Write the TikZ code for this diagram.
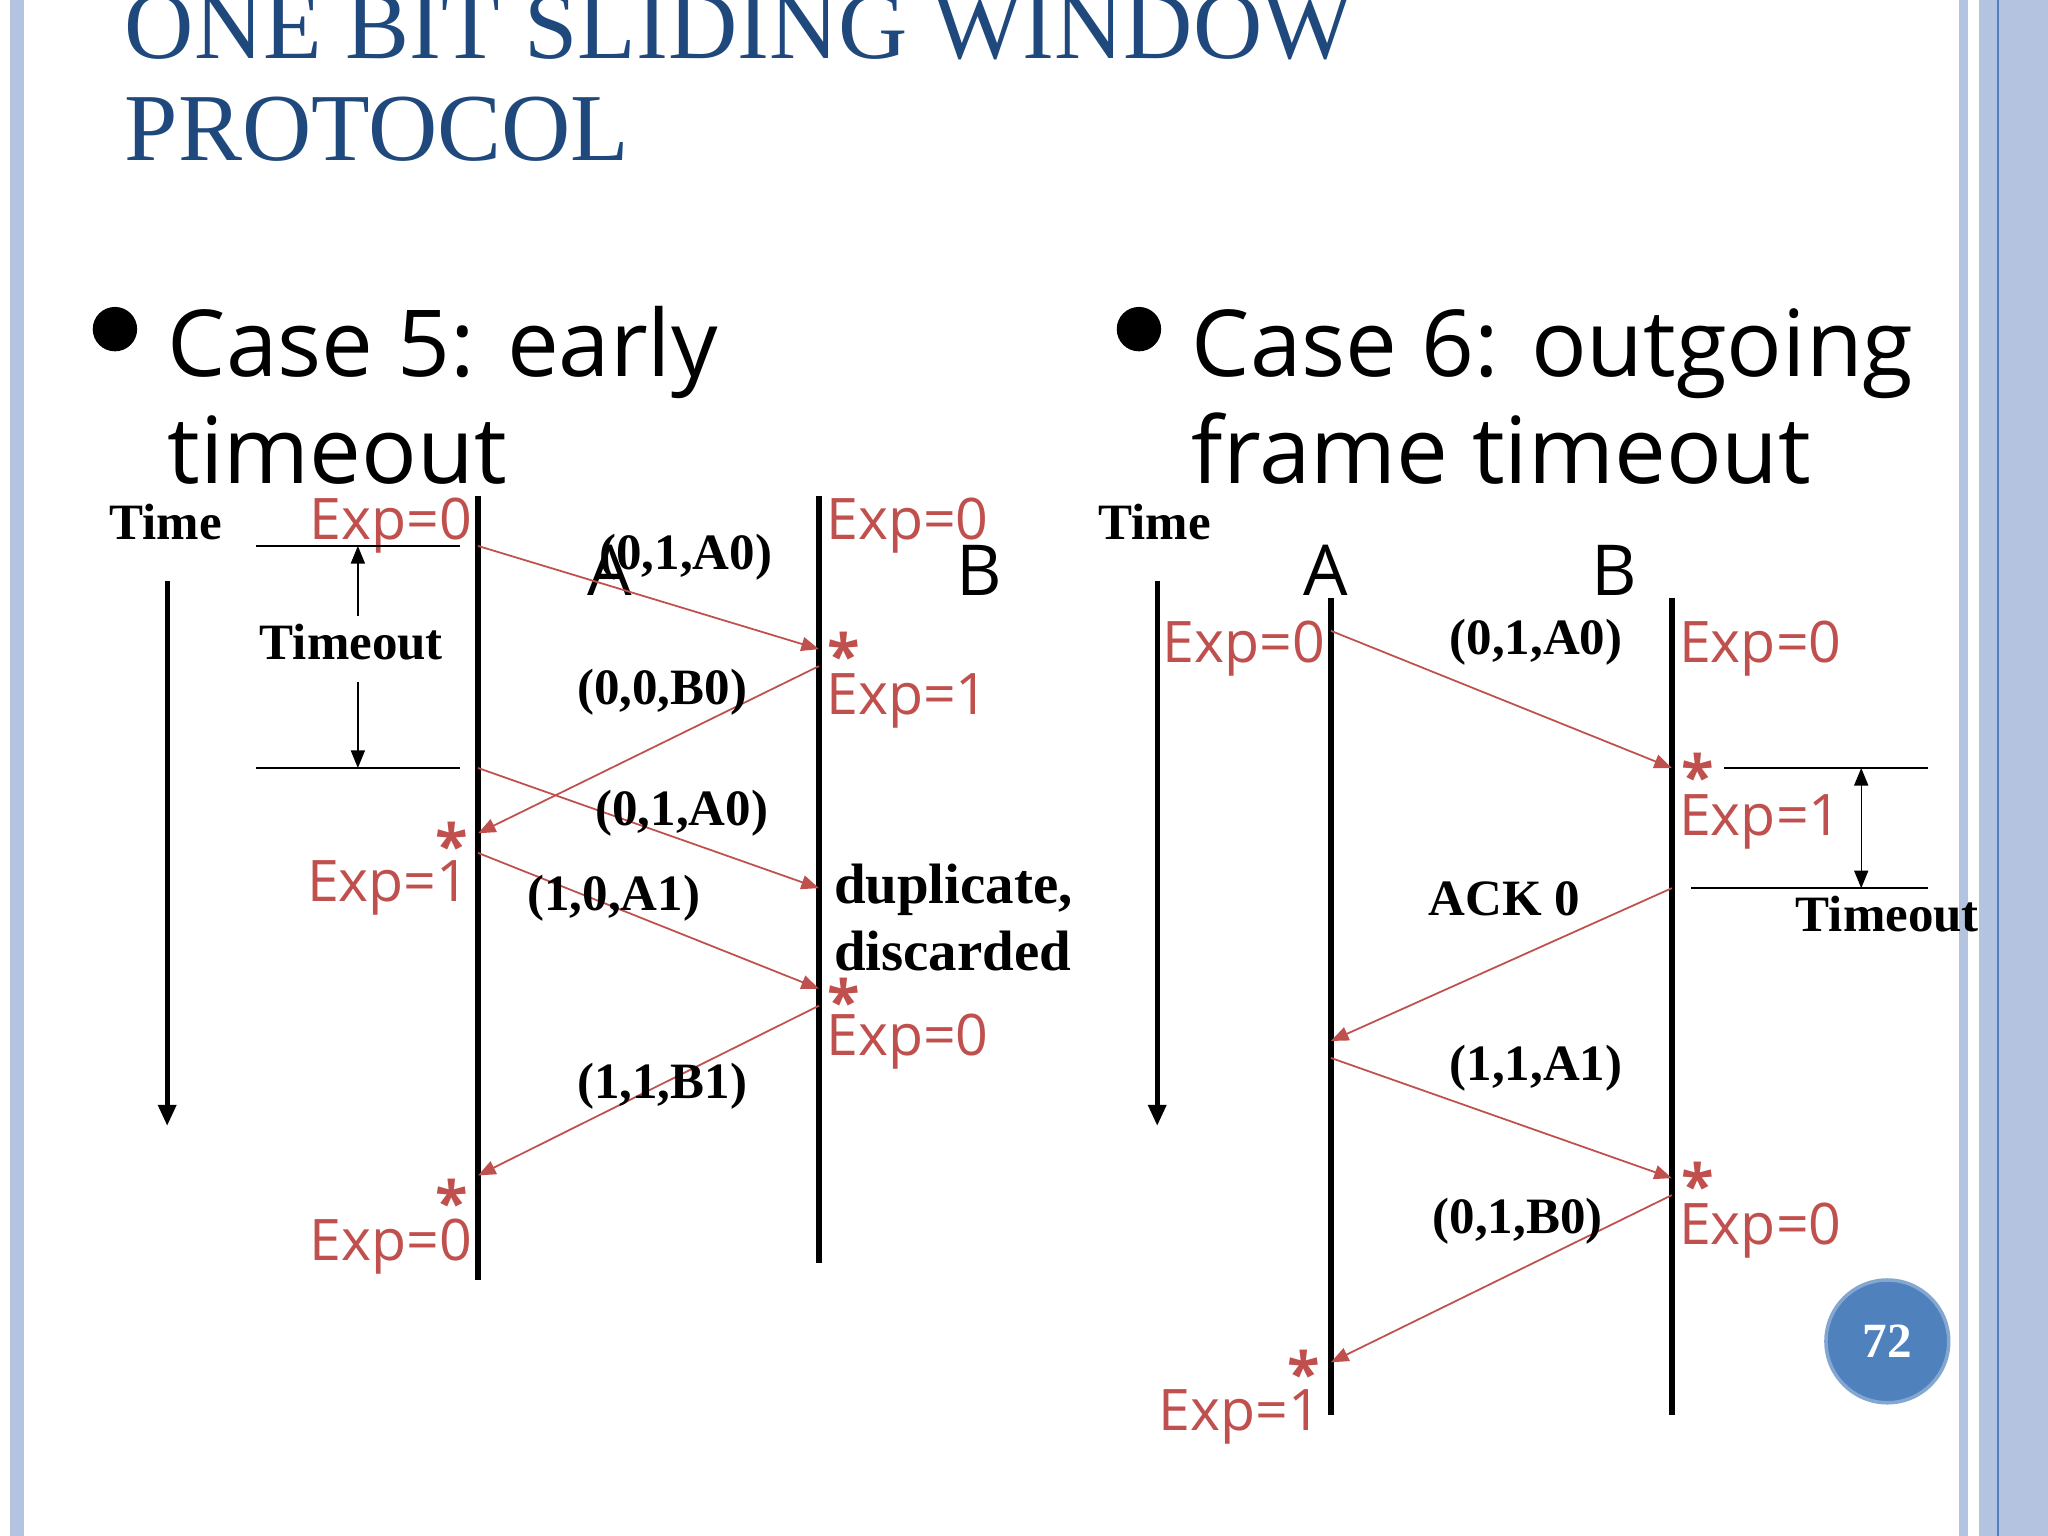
\documentclass[tikz,border=0pt]{standalone}
\usepackage{fontspec}
\setmainfont{Liberation Serif}
\newfontfamily\osans{Open Sans}
\usetikzlibrary{arrows.meta}
\definecolor{tblue}{RGB}{31,73,125}
\definecolor{rd}{RGB}{192,80,77}
\definecolor{pblue}{RGB}{79,129,189}
\definecolor{bar}{RGB}{180,196,224}
\tikzset{
 msg/.style={rd,line width=0.5pt,-{Triangle[length=5pt,width=4pt]}},
 life/.style={line width=1.6pt},
 ex/.style={text=rd,font=\osans\fontsize{16.3}{18}\selectfont,inner sep=0pt},
 st/.style={text=rd,font=\osans\bfseries\fontsize{17}{19}\selectfont,inner sep=0pt},
 lb/.style={font=\bfseries\fontsize{14.5}{16}\selectfont,inner sep=0pt},
 big/.style={font=\osans\fontsize{20}{24}\selectfont,inner sep=0pt},
 bul/.style={font=\osans\fontsize{26.3}{28}\selectfont,inner sep=0pt,anchor=base west},
}
\begin{document}
\begin{tikzpicture}[x=0.013061cm,y=-0.013061cm]
\useasboundingbox (0,0) rectangle (1568,1176);
\fill[white] (0,0) rectangle (1568,1176);
% borders
\fill[bar] (8,0) rectangle (18,1176);
\fill[bar] (1500,0) rectangle (1507,1176);
\fill[bar] (1515,0) rectangle (1568,1176);
\draw[pblue,line width=0.6pt] (1530,0) -- (1530,1176);
% title
\node[anchor=base west,text=tblue,font=\fontsize{27.3}{30}\selectfont,inner sep=0pt] (t1) at (95,45) {ONE BIT SLIDING WINDOW};
\node[anchor=base west,text=tblue,font=\fontsize{27.3}{30}\selectfont,inner sep=0pt] (t2) at (95,123) {PROTOCOL};
% bullets
\fill (88,252) circle (17);
\fill (872,252) circle (17);
\node[bul] (c5a) at (128,288) {Case 5: early};
\node[bul] (c5b) at (128,370) {timeout};
\node[bul] (c6a) at (912,288) {Case 6: outgoing};
\node[bul] (c6b) at (912,370) {frame timeout};
% ===== left
\node[lb] (tl) at (127,400) {Time};
\coordinate (tla) at (128,445); \coordinate (tlb) at (128,862);
\draw[line width=1.4pt,-{Triangle[length=6pt,width=5pt]}] (tla) -- (tlb);
\coordinate (A1) at (366,380); \coordinate (A2) at (366,980);
\coordinate (B1) at (627,380); \coordinate (B2) at (627,967);
\draw[life] (A1) -- (A2); \draw[life] (B1) -- (B2);
\node[big] (la) at (467,437) {A};
\node[big] (lbb) at (750,437) {B};
\node[ex,anchor=base east] (e1) at (362,413) {Exp=0};
\node[ex,anchor=base west] (e2) at (632,413) {Exp=0};
\draw[line width=0.5pt] (196,418) -- (352,418) (196,588) -- (352,588);
\node[lb] (to1) at (269,492) {Timeout};
\coordinate (d1) at (274,418); \coordinate (d2) at (274,588);
\draw[-{Triangle[length=5pt,width=4pt]}] (274,472) -- (d1);
\draw[-{Triangle[length=5pt,width=4pt]}] (274,522) -- (d2);
\coordinate (p1) at (366,418); \coordinate (q1) at (627,497);
\draw[msg] (p1) -- (q1);
\node[lb] (m1) at (525,427) {(0,1,A0)};
\node[st] (s1) at (646,501) {*};
\node[ex,anchor=base west] (e3) at (632,547) {Exp=1};
\coordinate (q2) at (627,510); \coordinate (p2) at (366,638);
\draw[msg] (q2) -- (p2);
\node[lb] (m2) at (507,530) {(0,0,B0)};
\coordinate (p3) at (366,588); \coordinate (q3) at (627,680);
\draw[msg] (p3) -- (q3);
\node[lb] (m3) at (522,623) {(0,1,A0)};
\node[st] (s2) at (346,647) {*};
\node[ex,anchor=base east] (e4) at (360,690) {Exp=1};
\coordinate (p4) at (366,653); \coordinate (q4) at (627,757);
\draw[msg] (p4) -- (q4);
\node[lb] (m4) at (470,688) {(1,0,A1)};
\node[lb,anchor=base west,font=\bfseries\fontsize{16.2}{18}\selectfont] (dup1) at (638,692) {duplicate,};
\node[lb,anchor=base west,font=\bfseries\fontsize{16.2}{18}\selectfont] (dup2) at (638,743) {discarded};
\node[st] (s3) at (646,766) {*};
\node[ex,anchor=base west] (e5) at (632,808) {Exp=0};
\coordinate (q5) at (627,770); \coordinate (p5) at (366,900);
\draw[msg] (q5) -- (p5);
\node[lb] (m5) at (507,832) {(1,1,B1)};
\node[st] (s4) at (346,920) {*};
\node[ex,anchor=base east] (e6) at (362,965) {Exp=0};
% ===== right
\node[lb] (tr) at (884,400) {Time};
\coordinate (tra) at (886,445); \coordinate (trb) at (886,862);
\draw[line width=1.4pt,-{Triangle[length=6pt,width=5pt]}] (tra) -- (trb);
\coordinate (RA1) at (1019,458); \coordinate (RA2) at (1019,1083);
\coordinate (RB1) at (1280,458); \coordinate (RB2) at (1280,1083);
\draw[life] (RA1) -- (RA2); \draw[life] (RB1) -- (RB2);
\node[big] (ra) at (1015,437) {A};
\node[big] (rb) at (1236,437) {B};
\node[ex,anchor=base east] (f1) at (1015,507) {Exp=0};
\node[ex,anchor=base west] (f2) at (1285,507) {Exp=0};
\coordinate (u1) at (1019,483); \coordinate (v1) at (1280,588);
\draw[msg] (u1) -- (v1);
\node[lb] (n1) at (1176,492) {(0,1,A0)};
\node[st] (t1s) at (1300,594) {*};
\node[ex,anchor=base west] (f3) at (1285,640) {Exp=1};
\draw[line width=0.5pt] (1320,588) -- (1476,588) (1295,680) -- (1476,680);
\coordinate (g1) at (1425,588); \coordinate (g2) at (1425,680);
\draw[{Triangle[length=5pt,width=4pt]}-{Triangle[length=5pt,width=4pt]}] (g1) -- (g2);
\node[lb] (to2) at (1445,700) {Timeout};
\node[lb] (ack) at (1152,688) {ACK 0};
\coordinate (v2) at (1280,680); \coordinate (u2) at (1019,797);
\draw[msg] (v2) -- (u2);
\coordinate (u3) at (1019,810); \coordinate (v3) at (1280,902);
\draw[msg] (u3) -- (v3);
\node[lb] (n3) at (1176,818) {(1,1,A1)};
\node[st] (t2s) at (1300,907) {*};
\node[ex,anchor=base west] (f4) at (1285,953) {Exp=0};
\coordinate (v4) at (1280,915); \coordinate (u4) at (1019,1043);
\draw[msg] (v4) -- (u4);
\node[lb] (n4) at (1162,935) {(0,1,B0)};
\node[st] (t3s) at (998,1051) {*};
\node[ex,anchor=base east] (f5) at (1012,1095) {Exp=1};
% page number
\node[circle,fill=pblue,draw=pblue!70!white,line width=1pt,minimum size=94*0.013061cm,text=white,font=\bfseries\fontsize{14}{16}\selectfont] (pg) at (1445,1027) {72};
\end{tikzpicture}
\end{document}
